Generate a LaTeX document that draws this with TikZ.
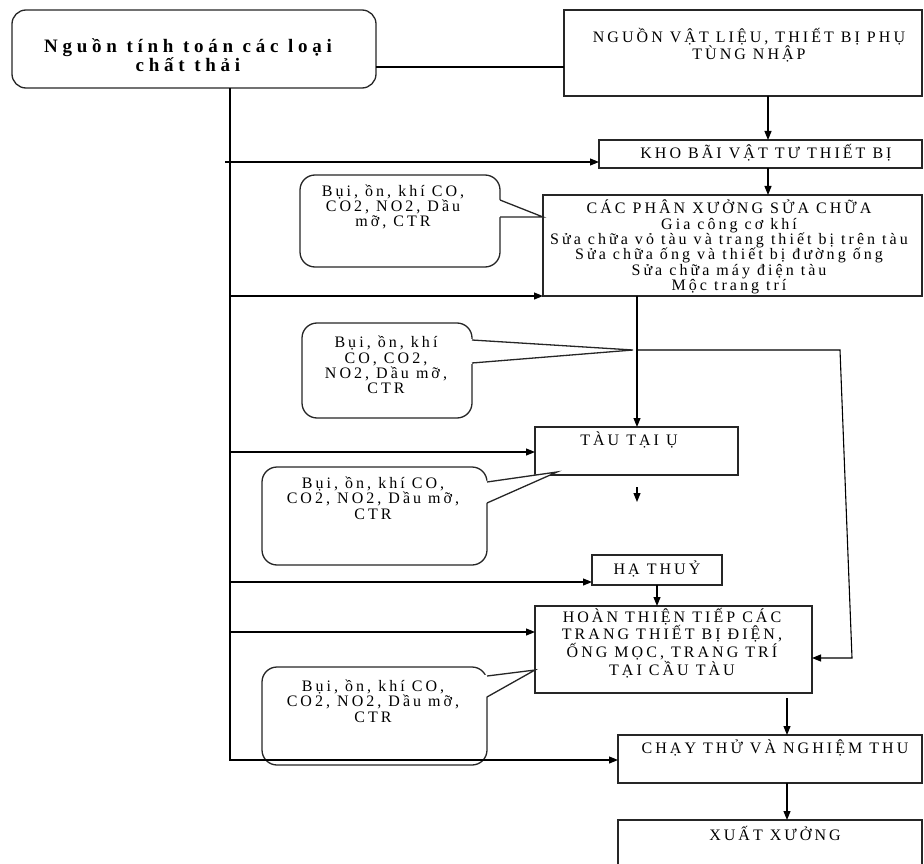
\documentclass[tikz,border=0pt]{standalone}
\usepackage{fontspec}
\setmainfont{Liberation Serif}[LetterSpace=19]
\newfontfamily\titlefont{Liberation Serif}[LetterSpace=25]
\usetikzlibrary{arrows.meta}

\begin{document}
\begin{tikzpicture}[x=1pt, y=-1pt,
  frame/.style={draw=black!85, line width=1.3pt, fill=white, inner sep=0pt, outer sep=0pt},
  blk/.style={frame, rectangle},
  bubble/.style={frame, rounded corners=15pt},
  txt/.style={inner sep=0pt, align=center, font=\fontsize{16}{15.4}\selectfont},
  ttl/.style={inner sep=0pt, align=center, font=\titlefont\fontsize{19}{19}\selectfont\bfseries},
  link/.style={draw=black, line width=1.1pt},
  arr/.style={link, -{Triangle[length=9pt,width=7pt]}},
  tip/.style={draw=black!85, line width=1.3pt},
]
\useasboundingbox (0,0) rectangle (924,864);
\clip (0,0) rectangle (924,864);

% ---------- process boxes ----------
\node[blk, rounded corners=14pt, minimum width=364pt, minimum height=78pt] (src) at (194,49) {};
\node[ttl] (srct) at (188,55) {Nguồn tính toán các loại\\chất thải};

\node[blk, minimum width=358pt, minimum height=86pt] (ngu) at (743,53) {};
\node[txt] (ngut) at (749,45) {NGUỒN VẬT LIỆU, THIẾT BỊ PHỤ\\TÙNG NHẬP};

\node[blk, minimum width=323pt, minimum height=28pt] (kho) at (760.5,154) {};
\node[txt] (khot) at (766,153) {KHO BÃI VẬT TƯ THIẾT BỊ};

\node[blk, minimum width=379pt, minimum height=101pt] (cac) at (732.5,245.5) {};
\node[txt] (cact) at (729,247) {CÁC PHÂN XƯỞNG SỬA CHỮA\\Gia công cơ khí\\Sửa chữa vỏ tàu và trang thiết bị trên tàu\\Sửa chữa ống và thiết bị đường ống\\Sửa chữa máy điện tàu\\Mộc trang trí};

\node[blk, minimum width=203pt, minimum height=48pt] (tau) at (636.5,451) {};
\node[txt] (taut) at (629,440) {TÀU TẠI Ụ};

\node[blk, minimum width=130pt, minimum height=30pt] (ha) at (657,570) {};
\node[txt] (hat) at (657,569) {HẠ THUỶ};

\node[blk, minimum width=277pt, minimum height=87pt] (hoan) at (673.5,649.5) {};
\node[txt] (hoant) at (672,643) {HOÀN THIỆN TIẾP CÁC\\TRANG THIẾT BỊ ĐIỆN,\\ỐNG MỌC, TRANG TRÍ\\TẠI CẦU TÀU};

\node[blk, minimum width=304pt, minimum height=48pt] (chay) at (770,759) {};
\node[txt] (chayt) at (775,748) {CHẠY THỬ VÀ NGHIỆM THU};

\node[blk, minimum width=304pt, minimum height=60pt] (xuat) at (770,850) {};
\node[txt] (xuatt) at (775,833) {XUẤT XƯỞNG};

% ---------- emission callouts ----------
\node[bubble, minimum width=200pt, minimum height=92pt] (b1) at (400,221) {};
\fill[white] (497,199) -- (543,217) -- (497,217) -- cycle;
\draw[tip] (500,200) -- (543,217) -- (500,217);
\node[txt] (b1t) at (393,207) {Bụi, ồn, khí CO,\\CO2, NO2, Dầu\\mỡ, CTR};

\node[bubble, minimum width=170pt, minimum height=95pt] (b2) at (387,370.5) {};
\fill[white] (469,339) -- (633,350) -- (469,364) -- cycle;
\draw[tip] (472,340) -- (633,350) -- (472,363);
\node[txt] (b2t) at (386,365) {Bụi, ồn, khí\\CO, CO2,\\NO2, Dầu mỡ,\\CTR};

\node[bubble, minimum width=225pt, minimum height=98pt] (b3) at (374.5,516) {};
\fill[white] (484,481) -- (557,472) -- (484,504) -- cycle;
\draw[tip] (487,482) -- (557,472) -- (487,503);
\node[txt] (b3t) at (373,498) {Bụi, ồn, khí CO,\\CO2, NO2, Dầu mỡ,\\CTR};

\node[bubble, minimum width=225pt, minimum height=98pt] (b4) at (374.5,716) {};
\fill[white] (484,675) -- (535,670) -- (484,698) -- cycle;
\draw[tip] (487,676) -- (535,670) -- (487,697);
\node[txt] (b4t) at (373,701) {Bụi, ồn, khí CO,\\CO2, NO2, Dầu mỡ,\\CTR};

% ---------- connectors ----------
\coordinate (spx) at (230,0);
\coordinate (j1) at (225,162);
\coordinate (j2) at (230,296);
\coordinate (j3) at (230,452);
\coordinate (j4) at (230,582);
\coordinate (j5) at (230,632);
\coordinate (j6) at (230,760);
\coordinate (cx1) at (768,0);
\coordinate (cx2) at (637,0);
\coordinate (br) at (637,350);
\coordinate (br1) at (840,350);
\coordinate (br2) at (852,658);
\coordinate (d1) at (637,487);
\coordinate (d2) at (637,502);
\coordinate (e1) at (787,698);

\draw[link] ([yshift=-18pt]src.east) -- ([yshift=-18pt]src.east -| ngu.west);
\draw[arr] (src.south -| spx) -- (j6) -- (j6 -| chay.west);
\draw[arr] (j1) -- (j1 -| kho.west);
\draw[arr] (j2) -- (j2 -| cac.west);
\draw[arr] (j3) -- (j3 -| tau.west);
\draw[arr] (j4) -- (j4 -| ha.west);
\draw[arr] (j5) -- (j5 -| hoan.west);

\draw[arr] (ngu.south -| cx1) -- (kho.north -| cx1);
\draw[arr] (kho.south -| cx1) -- (cac.north -| cx1);
\draw[arr] (cac.south -| cx2) -- (tau.north -| cx2);
\draw[arr] (br) -- (br1) -- (br2) -- (br2 -| hoan.east);
\draw[arr] (d1) -- (d2);
\draw[arr] (ha.south) -- (hoan.north -| ha.south);
\draw[arr] (e1) -- (e1 |- chay.north);
\draw[arr] (chay.south -| e1) -- (xuat.north -| e1);
\end{tikzpicture}
\end{document}
